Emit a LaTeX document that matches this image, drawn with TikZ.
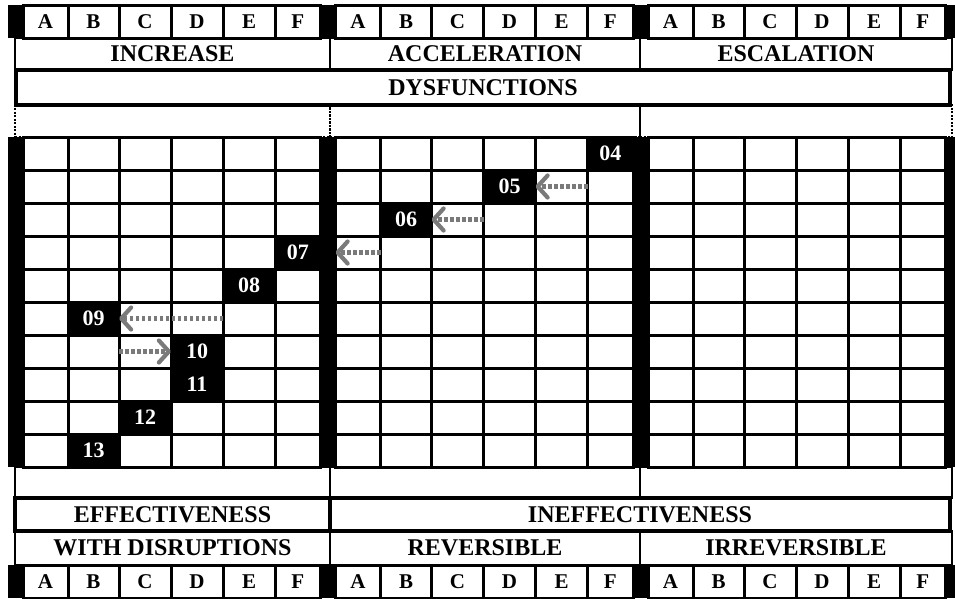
\documentclass[tikz,border=0pt]{standalone}
\usepackage{fontspec}
\setmainfont{Liberation Serif}
\usetikzlibrary{arrows.meta,calc}
\definecolor{movegray}{HTML}{7A7A7A}
\tikzset{
  cell/.style       = {draw,line width=3pt,minimum height=33pt,inner sep=0pt,
                       outer sep=0pt},
  letcell/.style    = {cell,font=\fontsize{21}{21}\selectfont\bfseries},
  band/.style       = {draw,line width=1.6pt,inner sep=0pt,outer sep=0pt,
                       font=\fontsize{24}{24}\selectfont\bfseries},
  strongband/.style = {band,line width=3.2pt},
  gapband/.style    = {band,dash pattern=on 2pt off 1.5pt},
  numtxt/.style     = {text=white,inner sep=0pt,
                       font=\fontsize{22}{22}\selectfont\bfseries},
  move/.style       = {draw=movegray,line width=4.2pt,dash pattern=on 3.5pt off 2.5pt,
                       -{Straight Barb[length=10pt,width=22pt,line width=4.2pt,round]}},
}
% one block of six columns A..F, with its black bar on the left
\newcommand{\colblock}[2]{%
  \begin{scope}[xshift=#2pt]
    \fill (0,5) rectangle (15,38);
    \fill (0,137) rectangle (15,467);
    \fill (0,565) rectangle (15,598);
    \foreach \c/\l/\r in {A/15/60,B/60/111,C/111/163,D/163/215,E/215/267,F/267/312.5}{
      \node[letcell,minimum width={(\r-\l)*1pt}] (#1-\c-top) at ({(\l+\r)/2},21.5) {\c};
      \node[letcell,minimum width={(\r-\l)*1pt}] (#1-\c-bot) at ({(\l+\r)/2},581.5) {\c};
      \foreach \k in {1,...,10}
        \node[cell,minimum width={(\r-\l)*1pt}] (#1-\c-\k) at ({(\l+\r)/2},{120.5+33*\k}) {};
    }
  \end{scope}%
}
\newcommand{\blackcell}[3]{%
  \fill (#1.north west) rectangle (#1.south east);
  \node[numtxt] (#2) at (#1) {#3};
}

\begin{document}
\begin{tikzpicture}[x=1pt,y=-1pt]
  \useasboundingbox (0,0) rectangle (955,598);
  \clip (0,0) rectangle (955,598);
  \fill[white] (0,0) rectangle (955,598);

  % bands above the grid
  \node[band,minimum width=315pt,minimum height=32pt] (increase) at (172.5,54) {INCREASE};
  \node[band,minimum width=310pt,minimum height=32pt] (accel) at (485,54) {ACCELERATION};
  \node[band,minimum width=312pt,minimum height=32pt] (escal) at (796,54) {ESCALATION};
  \node[gapband,minimum width=315pt,minimum height=32pt] (gapa) at (172.5,121) {};
  \node[gapband,minimum width=310pt,minimum height=32pt] (gapb) at (485,121) {};
  \node[gapband,minimum width=312pt,minimum height=32pt] (gapc) at (796,121) {};
  \node[strongband,minimum width=934pt,minimum height=35pt] (dysf) at (483,87.5) {DYSFUNCTIONS};

  % bands below the grid
  \node[band,minimum width=315pt,minimum height=31pt] (lowa) at (172.5,482.5) {};
  \node[band,minimum width=310pt,minimum height=31pt] (lowb) at (485,482.5) {};
  \node[band,minimum width=312pt,minimum height=31pt] (lowc) at (796,482.5) {};
  \node[band,minimum width=315pt,minimum height=34pt] (disrupt) at (172.5,548) {WITH DISRUPTIONS};
  \node[band,minimum width=310pt,minimum height=34pt] (revers) at (485,548) {REVERSIBLE};
  \node[band,minimum width=312pt,minimum height=34pt] (irrev) at (796,548) {IRREVERSIBLE};
  \node[strongband,minimum width=315pt,minimum height=33pt] (effect) at (172.5,514.5) {EFFECTIVENESS};
  \node[strongband,minimum width=620pt,minimum height=33pt] (ineffect) at (640,514.5) {INEFFECTIVENESS};

  % the three column blocks
  \colblock{s1}{8}
  \colblock{s2}{320.5}
  \colblock{s3}{633}
  \fill (945.5,5) rectangle (960,38);
  \fill (945.5,137) rectangle (960,467);
  \fill (945.5,565) rectangle (960,598);

  % numbered cells
  \blackcell{s2-F-1}{n04}{04}
  \blackcell{s2-D-2}{n05}{05}
  \blackcell{s2-B-3}{n06}{06}
  \blackcell{s1-F-4}{n07}{07}
  \blackcell{s1-E-5}{n08}{08}
  \blackcell{s1-B-6}{n09}{09}
  \blackcell{s1-D-7}{n10}{10}
  \blackcell{s1-D-8}{n11}{11}
  \blackcell{s1-C-9}{n12}{12}
  \blackcell{s1-B-10}{n13}{13}

  % moves
  \draw[move] (s2-E-2.east) -- (s2-D-2.east);
  \draw[move] (s2-C-3.east) -- (s2-B-3.east);
  \draw[move] (s2-A-4.east) -- (s2-A-4.west);
  \draw[move] (s1-D-6.east) -- (s1-B-6.east);
  \draw[move] (s1-B-7.east) -- (s1-D-7.west);
\end{tikzpicture}
\end{document}
